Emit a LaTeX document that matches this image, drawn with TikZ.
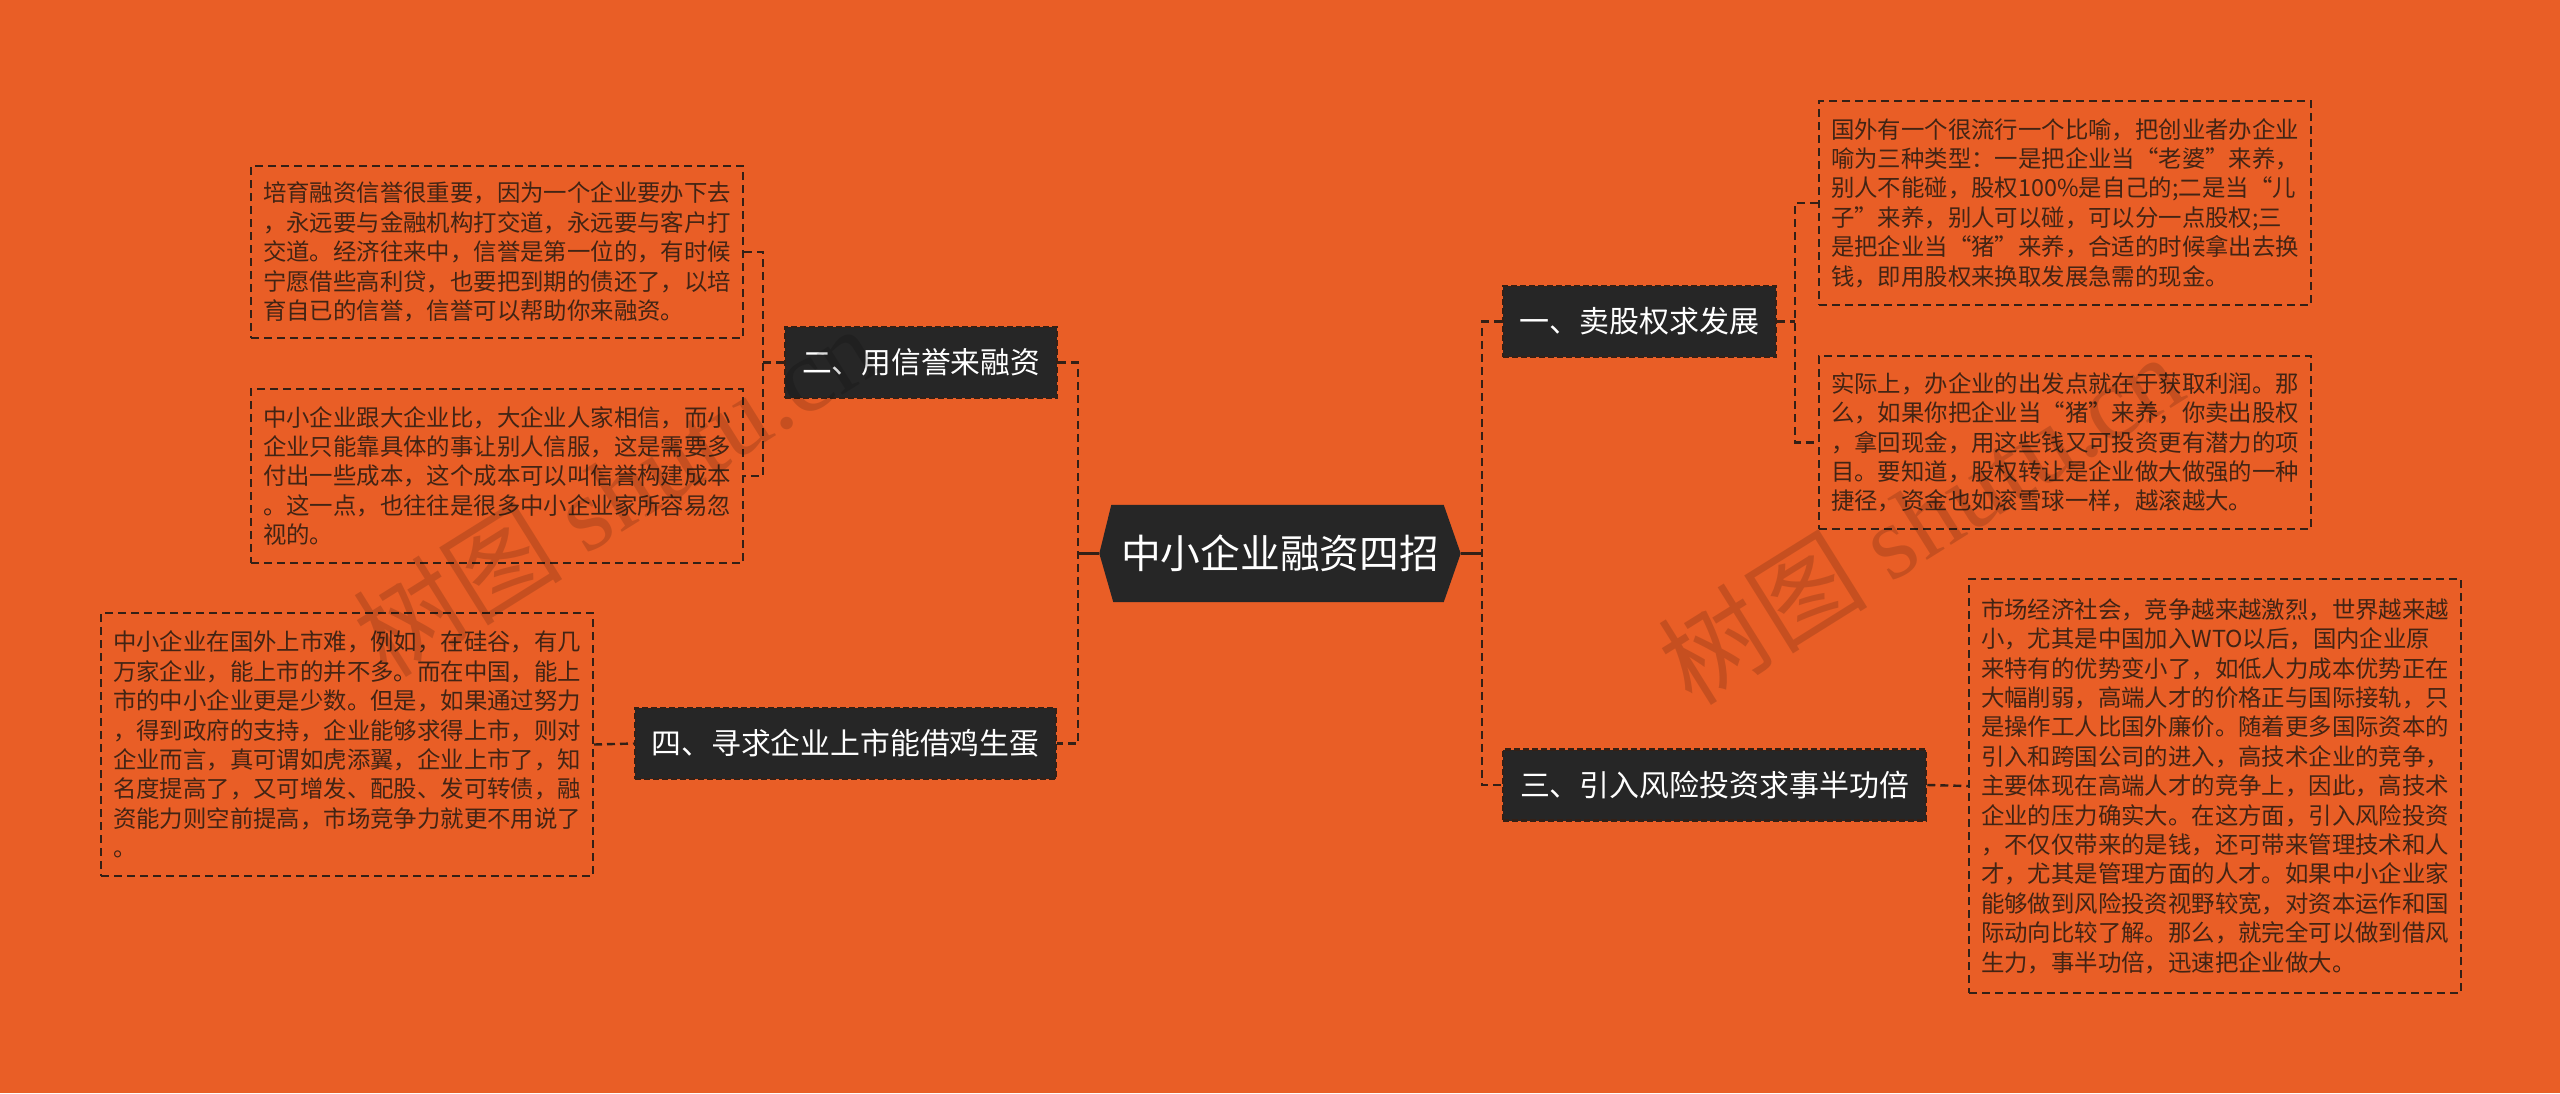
\documentclass[tikz,border=0pt]{standalone}
\usepackage{fontspec}
\usepackage{graphicx}
\setmainfont{Noto Sans CJK SC}
\newfontfamily\wmserif{Liberation Serif}
\usetikzlibrary{backgrounds}
\definecolor{bgor}{RGB}{233,94,38}
\definecolor{nodedark}{RGB}{38,38,38}
\definecolor{linedark}{RGB}{52,32,22}
\definecolor{leaftext}{RGB}{66,36,20}
\tikzset{
  conn/.style={draw=linedark, line width=2.4pt, dash pattern=on 8pt off 5pt},
  trunk/.style={draw=linedark, line width=3pt},
  leaf/.style={draw=linedark, line width=2pt, dash pattern=on 8pt off 5pt,
    align=left, text=leaftext, font=\fontsize{23.4}{29.4}\selectfont,
    inner xsep=12pt, inner ysep=0pt, minimum width=492pt, anchor=north west},
  branch/.style={fill=nodedark, draw=linedark, line width=2.5pt,
    dash pattern=on 6pt off 3pt, text=white, minimum height=71pt, inner xsep=0pt,
    font=\fontsize{30}{30}\selectfont},
  wm/.style={text=black, text opacity=0.15, rotate=32, inner sep=0pt},
}
\begin{document}
\begin{tikzpicture}[x=1pt,y=-1pt]
\begin{scope}[on background layer]
\fill[bgor] (0,0) rectangle (2560,1093);
\end{scope}
\useasboundingbox (0,0) rectangle (2560,1093);

% center
\node[minimum width=361pt, minimum height=97pt, inner sep=0pt, text=white,
      font=\fontsize{40}{40}\selectfont] (c) at (1280,553.5) {\resizebox{318pt}{!}{中小企业融资四招}};
\begin{scope}[on background layer]
\fill[nodedark] (c.west) -- ([xshift=12pt]c.north west) -- ([xshift=-17pt]c.north east)
  -- (c.east) -- ([xshift=-17pt]c.south east) -- ([xshift=14pt]c.south west) -- cycle;
\end{scope}

% branches
\node[branch, minimum width=273pt] (b1) at (1639.5,321.5) {\resizebox{240pt}{!}{一、卖股权求发展}};
\node[branch, minimum width=272pt] (b2) at (921,362.5) {\resizebox{238pt}{!}{二、用信誉来融资}};
\node[branch, minimum width=423pt] (b3) at (1714.5,785) {\resizebox{389pt}{!}{三、引入风险投资求事半功倍}};
\node[branch, minimum width=421pt] (b4) at (845.5,743.5) {\resizebox{388pt}{!}{四、寻求企业上市能借鸡生蛋}};

% leaves
\node[leaf, minimum height=172pt] (l1) at (250,165) {培育融资信誉很重要，因为一个企业要办下去\\，永远要与金融机构打交道，永远要与客户打\\交道。经济往来中，信誉是第一位的，有时候\\宁愿借些高利贷，也要把到期的债还了，以培\\育自已的信誉，信誉可以帮助你来融资。};
\node[leaf, minimum height=174pt] (l2) at (250,388) {中小企业跟大企业比，大企业人家相信，而小\\企业只能靠具体的事让别人信服，这是需要多\\付出一些成本，这个成本可以叫信誉构建成本\\。这一点，也往往是很多中小企业家所容易忽\\视的。};
\node[leaf, minimum height=263pt] (l3) at (100,612) {中小企业在国外上市难，例如，在硅谷，有几\\万家企业，能上市的并不多。而在中国，能上\\市的中小企业更是少数。但是，如果通过努力\\，得到政府的支持，企业能够求得上市，则对\\企业而言，真可谓如虎添翼，企业上市了，知\\名度提高了，又可增发、配股、发可转债，融\\资能力则空前提高，市场竞争力就更不用说了\\。};
\node[leaf, minimum height=204pt] (r1) at (1818,100) {国外有一个很流行一个比喻，把创业者办企业\\喻为三种类型：一是把企业当“老婆”来养，\\别人不能碰，股权100\%是自己的;二是当“儿\\子”来养，别人可以碰，可以分一点股权;三\\是把企业当“猪”来养，合适的时候拿出去换\\钱，即用股权来换取发展急需的现金。};
\node[leaf, minimum height=173pt] (r2) at (1818,355) {实际上，办企业的出发点就在于获取利润。那\\么，如果你把企业当“猪”来养，你卖出股权\\，拿回现金，用这些钱又可投资更有潜力的项\\目。要知道，股权转让是企业做大做强的一种\\捷径，资金也如滚雪球一样，越滚越大。};
\node[leaf, minimum height=414pt] (r3) at (1968,578) {市场经济社会，竞争越来越激烈，世界越来越\\小，尤其是中国加入WTO以后，国内企业原\\来特有的优势变小了，如低人力成本优势正在\\大幅削弱，高端人才的价格正与国际接轨，只\\是操作工人比国外廉价。随着更多国际资本的\\引入和跨国公司的进入，高技术企业的竞争，\\主要体现在高端人才的竞争上，因此，高技术\\企业的压力确实大。在这方面，引入风险投资\\，不仅仅带来的是钱，还可带来管理技术和人\\才，尤其是管理方面的人才。如果中小企业家\\能够做到风险投资视野较宽，对资本运作和国\\际动向比较了解。那么，就完全可以做到借风\\生力，事半功倍，迅速把企业做大。};

% junction coordinates
\coordinate (cl) at (1078,553.5);
\coordinate (cr) at (1482,553.5);
\coordinate (k1) at (1795,0);
\coordinate (k2) at (763,0);

% connectors
\draw[trunk] (c.west) -- (cl);
\draw[trunk] (c.east) -- (cr);
\draw[conn] (b2.east) -- (b2.east -| cl) -- (b4.east -| cl) -- (b4.east);
\draw[conn] (b1.west) -- (b1.west -| cr) -- (b3.west -| cr) -- (b3.west);
\draw[conn] (r1.west) -- (r1.west -| k1) -- (r2.west -| k1) -- (r2.west);
\draw[conn] (b1.east) -- (b1.east -| k1);
\draw[conn] (l1.east) -- (l1.east -| k2) -- (l2.east -| k2) -- (l2.east);
\draw[conn] (b2.west) -- (b2.west -| k2);
\draw[conn] (b3.east) -- (r3.west);
\draw[conn] (l3.east) -- (b4.west);

% watermarks
\node[wm, font=\fontsize{105}{105}\selectfont] (wm1) at (615,490) {树图 {\wmserif shutu.cn}};
\node[wm, font=\fontsize{105}{105}\selectfont] (wm2) at (1920,518) {树图 {\wmserif shutu.cn}};
\end{tikzpicture}
\end{document}
